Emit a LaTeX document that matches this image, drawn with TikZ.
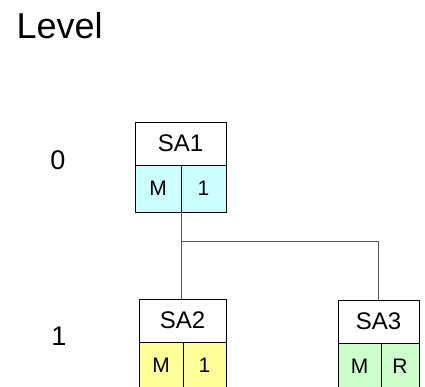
\documentclass[tikz,border=0pt]{standalone}
\usepackage{fontspec}
\setmainfont{Liberation Sans}
\definecolor{cyanbox}{HTML}{CCFFFF}
\definecolor{yellowbox}{HTML}{FFFF99}
\definecolor{greenbox}{HTML}{CCFFCC}
\definecolor{linegray}{HTML}{555555}
\begin{document}
\begin{tikzpicture}[x=1pt, y=-1pt,
    hdr/.style={draw=black, line width=1pt, fill=white, inner sep=0pt, outer sep=0pt, anchor=north west, minimum height=43pt, font=\fontsize{24}{28}\selectfont},
    cell/.style={draw=black, line width=1pt, inner sep=0pt, outer sep=0pt, anchor=north west, minimum height=47pt, font=\fontsize{21}{24}\selectfont},
    lvl/.style={font=\fontsize{27}{30}\selectfont},
    conn/.style={linegray, line width=1pt}]
                        \useasboundingbox (0,0) rectangle (425,386);
                        \node[anchor=base west, font=\fontsize{36}{40}\selectfont] (level) at (13,38) {Level};
                        \node[lvl] (lv0) at (58,160) {0};
                        \node[lvl] (lv1) at (59,336) {1};
                        \node[hdr, minimum width=91pt] (sa1) at (135,122) {SA1};
                        \node[cell, fill=cyanbox, minimum width=46pt] (sa1m) at (135,165) {M};
                        \node[cell, fill=cyanbox, minimum width=45pt] (sa1n) at (181,165) {1};
                        \node[hdr, minimum width=87pt] (sa2) at (139,299) {SA2};
                        \node[cell, fill=yellowbox, minimum width=44pt] (sa2m) at (139,342) {M};
                        \node[cell, fill=yellowbox, minimum width=43pt] (sa2n) at (183,342) {1};
                        \node[hdr, minimum width=81pt] (sa3) at (338,300) {SA3};
                        \node[cell, fill=greenbox, minimum width=43pt] (sa3m) at (338,343) {M};
                        \node[cell, fill=greenbox, minimum width=38pt] (sa3r) at (381,343) {R};
                        \coordinate (branch) at (sa1m.south east |- 0,241);
                        \draw[conn] (sa1m.south east) -- (sa1m.south east |- sa2.north);
                        \draw[conn] (branch) -| (sa3.north);
                    \end{tikzpicture}
\end{document}
